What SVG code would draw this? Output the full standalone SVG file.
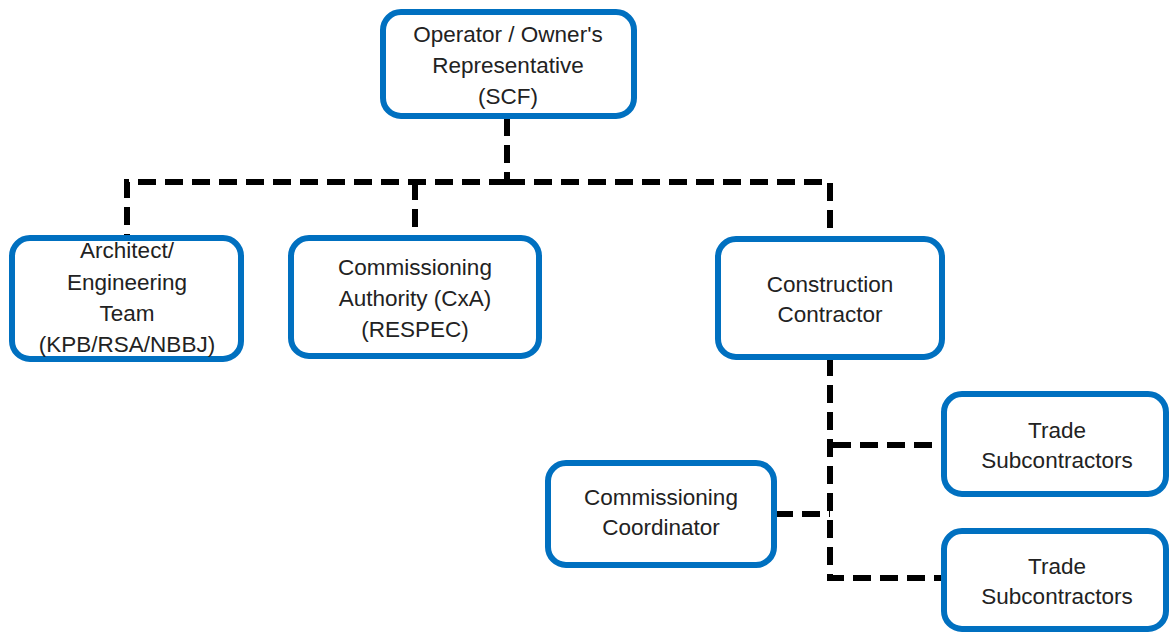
<svg xmlns="http://www.w3.org/2000/svg" width="1169" height="632" viewBox="0 0 1169 632">
<style>
.box{fill:#fff;stroke:#0070C0;stroke-width:6}
.t{font-family:"Liberation Sans",Arial,sans-serif;font-size:22.5px;fill:#222;text-anchor:middle}
.c{fill:none;stroke:#000;stroke-width:6;stroke-dasharray:18,9}
</style>
<rect width="1169" height="632" fill="#fff"/>
<g id="connectors">
<path class="c" d="M507 118 V182"/>
<path class="c" d="M507 182 H127 V237"/>
<path class="c" d="M507 182 H830 V238"/>
<path class="c" d="M415 182 V237"/>
<path class="c" d="M830 358 V578 H942"/>
<path class="c" d="M833 445 H942"/>
<path class="c" d="M775 514 H830"/>
</g>
<g id="n-operator">
<rect class="box" x="383" y="12" width="251" height="104" rx="18"/>
<text class="t" x="508" y="42">Operator / Owner's</text>
<text class="t" x="508" y="73">Representative</text>
<text class="t" x="508" y="104">(SCF)</text>
</g>
<g id="n-architect">
<rect class="box" x="12" y="238" width="229" height="121" rx="18"/>
<text class="t" x="127" y="258">Architect/</text>
<text class="t" x="127" y="290">Engineering</text>
<text class="t" x="127" y="321">Team</text>
<text class="t" x="127" y="352">(KPB/RSA/NBBJ)</text>
</g>
<g id="n-cxa">
<rect class="box" x="291" y="238" width="248" height="118" rx="18"/>
<text class="t" x="415" y="275">Commissioning</text>
<text class="t" x="415" y="306">Authority (CxA)</text>
<text class="t" x="415" y="337">(RESPEC)</text>
</g>
<g id="n-contractor">
<rect class="box" x="718" y="239" width="224" height="118" rx="18"/>
<text class="t" x="830" y="292">Construction</text>
<text class="t" x="830" y="322">Contractor</text>
</g>
<g id="n-trade1">
<rect class="box" x="944" y="394" width="222" height="100" rx="18"/>
<text class="t" x="1057" y="438">Trade</text>
<text class="t" x="1057" y="468">Subcontractors</text>
</g>
<g id="n-coordinator">
<rect class="box" x="548" y="463" width="226" height="102" rx="18"/>
<text class="t" x="661" y="505">Commissioning</text>
<text class="t" x="661" y="535">Coordinator</text>
</g>
<g id="n-trade2">
<rect class="box" x="944" y="531" width="222" height="98" rx="18"/>
<text class="t" x="1057" y="574">Trade</text>
<text class="t" x="1057" y="604">Subcontractors</text>
</g>
</svg>
